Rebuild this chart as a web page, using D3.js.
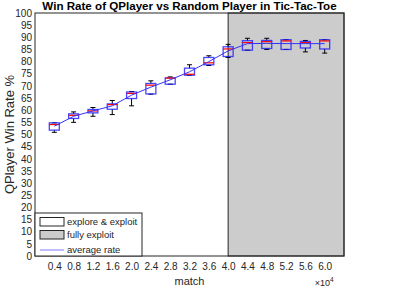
<!DOCTYPE html>
<html>
<head>
<meta charset="utf-8">
<script src="https://cdn.jsdelivr.net/npm/d3@7"></script>
<style>
  body { margin: 0; background: #fff; }
  text { font-family: "Liberation Sans", Arial, sans-serif; }
</style>
</head>
<body>
<div id="chart"></div>
<script>
// match count (x 10^4)
var matches = [0.4, 0.8, 1.2, 1.6, 2.0, 2.4, 2.8, 3.2, 3.6, 4.0, 4.4, 4.8, 5.2, 5.6, 6.0];
// box plot stats of win rate (%)
var whiskerLow  = [50.9, 55.0, 57.5, 58.2, 61.8, 66.6, 70.7, 74.4, 78.4, 81.7, 84.7, 85.0, 85.0, 84.0, 83.5];
var q1          = [51.8, 56.6, 58.9, 60.4, 64.8, 66.7, 70.7, 74.4, 78.7, 82.1, 84.7, 85.4, 85.0, 85.6, 85.2];
var medians     = [54.1, 57.9, 59.7, 62.3, 66.9, 70.3, 73.2, 74.8, 79.5, 85.2, 87.8, 88.2, 88.5, 87.8, 88.5];
var q3          = [54.8, 58.5, 60.3, 62.6, 67.5, 71.0, 73.3, 77.3, 81.7, 86.1, 88.6, 88.7, 89.0, 88.3, 89.0];
var whiskerHigh = [54.8, 59.3, 61.1, 64.0, 67.7, 72.1, 73.7, 78.7, 82.4, 87.1, 89.6, 89.6, 89.0, 88.7, 89.0];
var avgRate     = [53.4, 57.5, 59.7, 61.8, 66.2, 69.5, 72.5, 75.8, 80.0, 84.4, 87.4, 87.5, 87.4, 87.4, 87.4];
var yTicks = d3.range(0, 101, 5);
var exploitStart = 4.0;

var margin = { top: 13, right: 54, bottom: 38, left: 35 },
    width = 398 - margin.left - margin.right,
    height = 294 - margin.top - margin.bottom;

var svg = d3.select("#chart").append("svg")
    .attr("width", 398)
    .attr("height", 294)
  .append("g")
    .attr("transform", "translate(" + margin.left + "," + margin.top + ")");

var x = d3.scaleLinear().domain([0, 6.4]).range([0, width]);
var y = d3.scaleLinear().domain([0, 100]).range([height, 0]);

// fully exploit region
svg.append("rect")
    .attr("x", x(exploitStart))
    .attr("y", 0)
    .attr("width", x(6.4) - x(exploitStart))
    .attr("height", height)
    .attr("fill", "#cccccc")
    .attr("stroke", "#262626")
    .attr("stroke-width", 1);

// axes
var xAxis = svg.append("g")
    .attr("transform", "translate(0," + height + ")")
    .call(d3.axisBottom(x).tickValues(matches).tickSize(0).tickPadding(7).tickFormat(d3.format(".1f")));
var yAxis = svg.append("g")
    .call(d3.axisLeft(y).tickValues(yTicks).tickSize(0).tickPadding(3));
[xAxis, yAxis].forEach(function(a) {
    a.select(".domain").remove();
    a.selectAll("text").attr("font-size", 10).attr("fill", "#262626")
        .style("font-family", "'Liberation Sans', Arial, sans-serif");
});

// frame
svg.append("rect")
    .attr("width", width)
    .attr("height", height)
    .attr("fill", "none")
    .attr("stroke", "#262626")
    .attr("stroke-width", 1);

var bw = 10, cap = 5;
var boxes = svg.selectAll(".box")
    .data(matches)
    .enter().append("g")
    .attr("class", "box");

// whiskers
boxes.append("line")
    .attr("x1", function(d) { return x(d); })
    .attr("x2", function(d) { return x(d); })
    .attr("y1", function(d, i) { return y(whiskerHigh[i]); })
    .attr("y2", function(d, i) { return y(q3[i]); })
    .attr("stroke", "#000");
boxes.append("line")
    .attr("x1", function(d) { return x(d); })
    .attr("x2", function(d) { return x(d); })
    .attr("y1", function(d, i) { return y(q1[i]); })
    .attr("y2", function(d, i) { return y(whiskerLow[i]); })
    .attr("stroke", "#000");
boxes.append("line")
    .attr("x1", function(d) { return x(d) - cap / 2; })
    .attr("x2", function(d) { return x(d) + cap / 2; })
    .attr("y1", function(d, i) { return y(whiskerHigh[i]); })
    .attr("y2", function(d, i) { return y(whiskerHigh[i]); })
    .attr("stroke", "#000");
boxes.append("line")
    .attr("x1", function(d) { return x(d) - cap / 2; })
    .attr("x2", function(d) { return x(d) + cap / 2; })
    .attr("y1", function(d, i) { return y(whiskerLow[i]); })
    .attr("y2", function(d, i) { return y(whiskerLow[i]); })
    .attr("stroke", "#000");

// boxes
boxes.append("rect")
    .attr("x", function(d) { return x(d) - bw / 2; })
    .attr("y", function(d, i) { return y(q3[i]); })
    .attr("width", bw)
    .attr("height", function(d, i) { return y(q1[i]) - y(q3[i]); })
    .attr("fill", "none")
    .attr("stroke", "#1a1aff")
    .attr("stroke-opacity", 0.8)
    .attr("stroke-width", 1.3);

// medians
boxes.append("line")
    .attr("x1", function(d) { return x(d) - bw / 2; })
    .attr("x2", function(d) { return x(d) + bw / 2; })
    .attr("y1", function(d, i) { return y(medians[i]); })
    .attr("y2", function(d, i) { return y(medians[i]); })
    .attr("stroke", "#ff0000")
    .attr("stroke-width", 1.2);

// average rate line
var line = d3.line()
    .x(function(d) { return x(d); })
    .y(function(d, i) { return y(avgRate[i]); });
svg.append("path")
    .datum(matches)
    .attr("d", line)
    .attr("fill", "none")
    .attr("stroke", "#3333ff")
    .attr("stroke-width", 1);

// title and labels
svg.append("text")
    .attr("x", width / 2)
    .attr("y", -3)
    .attr("text-anchor", "middle")
    .attr("font-size", 11.6)
    .attr("font-weight", "bold")
    .text("Win Rate of QPlayer vs Random Player in Tic-Tac-Toe");

svg.append("text")
    .attr("x", width / 2)
    .attr("y", height + 29)
    .attr("text-anchor", "middle")
    .attr("font-size", 11)
    .attr("fill", "#262626")
    .text("match");

var exp = svg.append("text")
    .attr("x", x(6.0) - 10)
    .attr("y", height + 30)
    .attr("font-size", 9)
    .attr("fill", "#262626");
exp.append("tspan").text("\u00d710");
exp.append("tspan").attr("dy", -4).attr("font-size", 6.5).text("4");

svg.append("text")
    .attr("transform", "rotate(-90)")
    .attr("x", -height / 2)
    .attr("y", -21)
    .attr("text-anchor", "middle")
    .attr("font-size", 13)
    .attr("fill", "#262626")
    .text("QPlayer Win Rate %");

// legend
var legend = svg.append("g").attr("transform", "translate(0," + (height - 43) + ")");
legend.append("rect")
    .attr("width", 107)
    .attr("height", 43)
    .attr("fill", "#fff")
    .attr("stroke", "#262626");
var legendItems = ["explore & exploit", "fully exploit", "average rate"];
var legendFill = ["#ffffff", "#cccccc", null];
legendItems.forEach(function(name, i) {
    var ly = 9 + i * 13;
    if (legendFill[i]) {
        legend.append("rect")
            .attr("x", 5).attr("y", ly - 4.5)
            .attr("width", 24).attr("height", 8.5)
            .attr("fill", legendFill[i])
            .attr("stroke", "#262626");
    } else {
        legend.append("line")
            .attr("x1", 5).attr("x2", 29)
            .attr("y1", ly + 2).attr("y2", ly + 2)
            .attr("stroke", "#9999ff")
            .attr("stroke-width", 1.3);
    }
    legend.append("text")
        .attr("x", 32)
        .attr("y", ly + (i == 2 ? 2 : 0))
        .attr("dy", "0.35em")
        .attr("font-size", 9.5)
        .attr("fill", "#262626")
        .text(name);
});
</script>
</body>
</html>
